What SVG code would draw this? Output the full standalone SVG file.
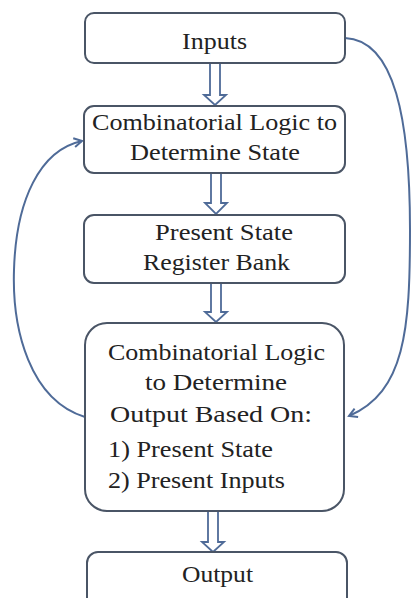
<svg xmlns="http://www.w3.org/2000/svg" width="411" height="598" viewBox="0 0 411 598">
<style>
.box{fill:#fff;stroke:#4a5566;stroke-width:2}
.ha{fill:#fff;stroke:#4f6b98;stroke-width:1.8;stroke-linejoin:miter}
.cv{fill:none;stroke:#4f6b98;stroke-width:2}
</style>
<defs>
<marker id="ah" markerWidth="12" markerHeight="12" refX="10" refY="6" orient="auto" markerUnits="userSpaceOnUse">
<path d="M2,1.5 L10,6 L2,10.5" fill="none" stroke="#4f6b98" stroke-width="2"/>
</marker>
</defs>
<rect width="411" height="598" fill="#fff"/>
<g id="connectors">
<path class="ha" d="M210,63 L210,95 L204,95 L215,105 L226,95 L220,95 L220,63"/>
<path class="ha" d="M211,173 L211,203 L205,203 L216,214 L227,203 L221,203 L221,173"/>
<path class="ha" d="M211,283 L211,312 L205,312 L216,322 L227,312 L221,312 L221,283"/>
<path class="ha" d="M208,511 L208,542 L202,542 L213,552 L224,542 L218,542 L218,511"/>
<path class="cv" marker-end="url(#ah)" d="M345,38 C395,40 410,120 410,230 C410,330 405,392 349,416"/>
<path class="cv" marker-end="url(#ah)" d="M85,417 C30,400 12,330 14,270 C16,200 40,150 82,141"/>
</g>
<g font-family="Liberation Serif, serif" font-size="24" fill="#222">
<g id="inputs">
<rect class="box" x="85" y="13" width="260" height="50" rx="9"/>
<text x="182" y="49" textLength="65" lengthAdjust="spacingAndGlyphs">Inputs</text>
</g>
<g id="comb-state">
<rect class="box" x="84" y="106" width="261" height="67" rx="10"/>
<text x="92" y="130" textLength="245" lengthAdjust="spacingAndGlyphs">Combinatorial Logic to</text>
<text x="130" y="160" textLength="170" lengthAdjust="spacingAndGlyphs">Determine State</text>
</g>
<g id="register">
<rect class="box" x="84" y="215" width="261" height="68" rx="10"/>
<text x="155" y="240" textLength="138" lengthAdjust="spacingAndGlyphs">Present State</text>
<text x="143" y="270" textLength="147" lengthAdjust="spacingAndGlyphs">Register Bank</text>
</g>
<g id="comb-output">
<rect class="box" x="85" y="323" width="259" height="188" rx="22"/>
<text x="108" y="360" textLength="217" lengthAdjust="spacingAndGlyphs">Combinatorial Logic</text>
<text x="145" y="390" textLength="142" lengthAdjust="spacingAndGlyphs">to Determine</text>
<text x="110" y="422" textLength="202" lengthAdjust="spacingAndGlyphs">Output Based On:</text>
<text x="108" y="457" textLength="165" lengthAdjust="spacingAndGlyphs">1) Present State</text>
<text x="108" y="488" textLength="177" lengthAdjust="spacingAndGlyphs">2) Present Inputs</text>
</g>
<g id="output">
<rect class="box" x="87" y="552" width="260" height="60" rx="11"/>
<text x="182" y="582" textLength="71" lengthAdjust="spacingAndGlyphs">Output</text>
</g>
</g>
</svg>
